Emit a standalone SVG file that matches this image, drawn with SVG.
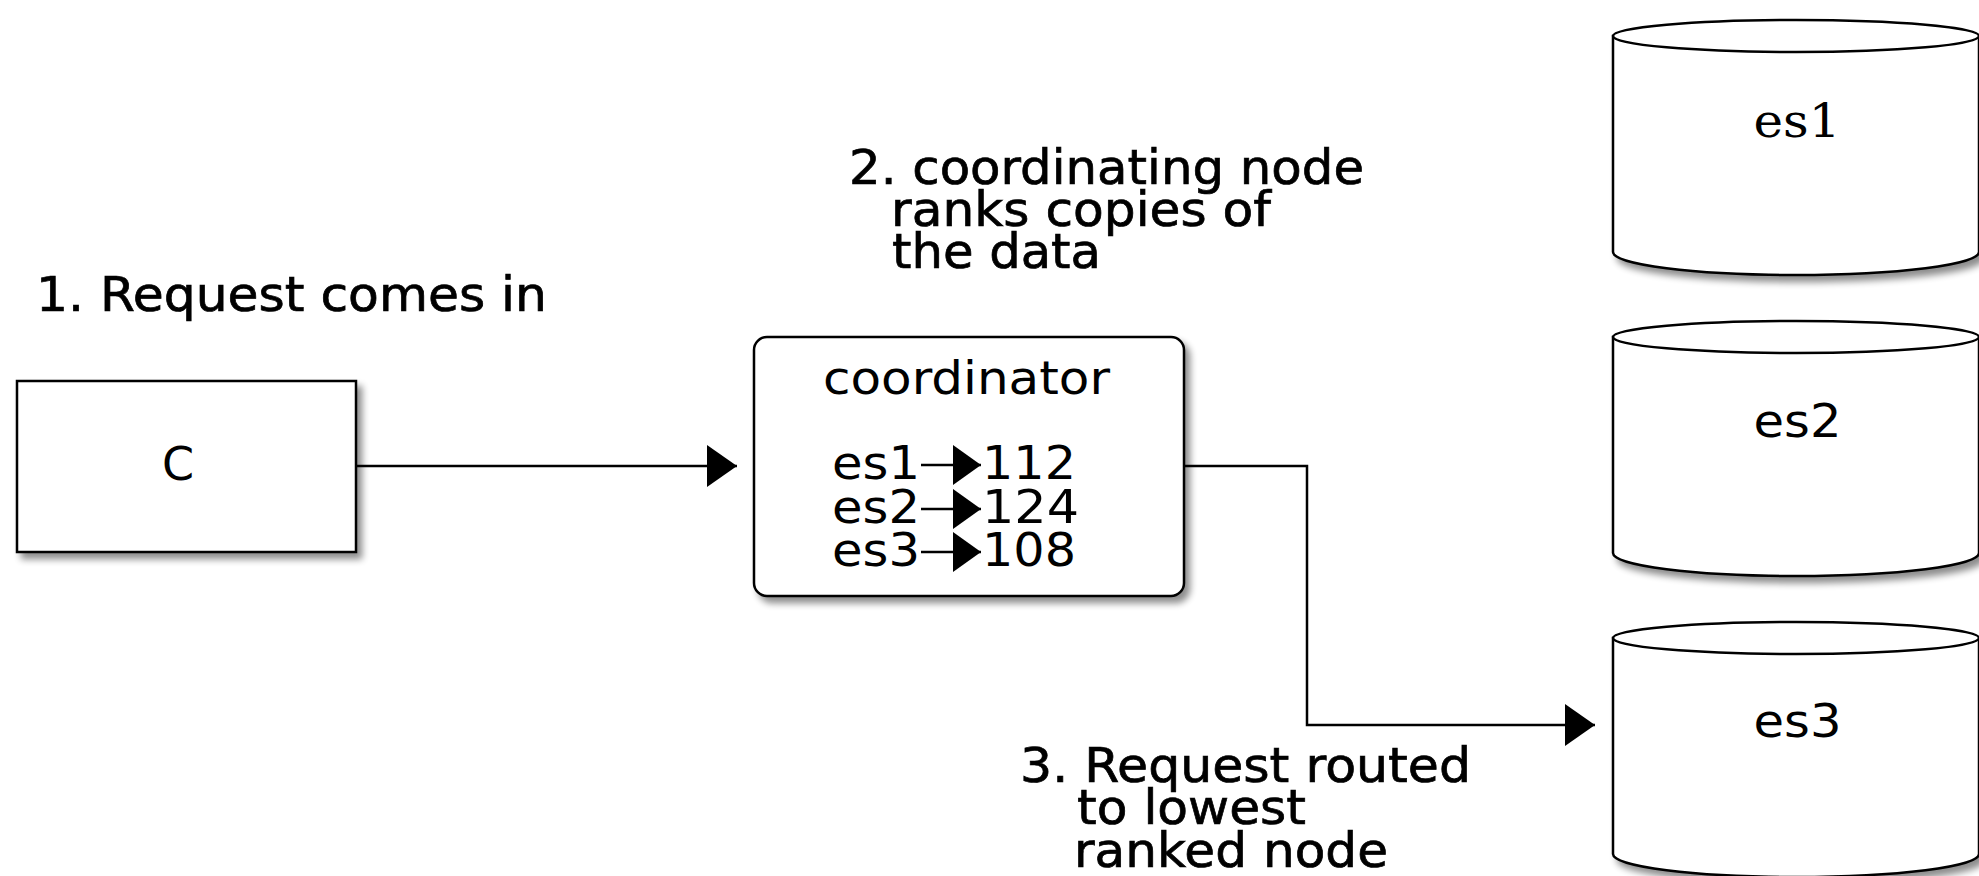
<svg xmlns="http://www.w3.org/2000/svg" width="1979" height="876" viewBox="0 0 1979 876">
  <defs>
    <filter id="shadow" x="-10%" y="-10%" width="130%" height="130%">
      <feGaussianBlur in="SourceAlpha" stdDeviation="3.5"/>
      <feOffset dx="5" dy="6" result="b"/>
      <feComponentTransfer><feFuncA type="linear" slope="0.45"/></feComponentTransfer>
      <feMerge><feMergeNode/><feMergeNode in="SourceGraphic"/></feMerge>
    </filter>
    <marker id="arrow" markerUnits="userSpaceOnUse" markerWidth="31" markerHeight="43" refX="30" refY="21" orient="auto">
      <path d="M0,0 L30,21 L0,42 Z" fill="#000"/>
    </marker>
    <marker id="arrowSmall" markerUnits="userSpaceOnUse" markerWidth="29" markerHeight="41" refX="28" refY="20" orient="auto">
      <path d="M0,0 L28,20 L0,40 Z" fill="#000"/>
    </marker>
  </defs>
  <style>
    .shape { fill: #fff; stroke: #000; stroke-width: 2.5; }
    .txt { font-family: "DejaVu Sans", "Liberation Sans", sans-serif; fill: #000; }
    .serif { font-family: "DejaVu Serif", "Liberation Serif", serif; fill: #000; }
    .label { font-size: 48px; stroke: #000; stroke-width: 0.7px; }
    .node { font-size: 46px; }
    .conn { fill: none; stroke: #000; stroke-width: 2.5; }
  </style>
  <rect width="1979" height="876" fill="#fff"/>

  <g id="label1">
    <text class="txt label" x="36" y="311" textLength="511" lengthAdjust="spacingAndGlyphs">1. Request comes in</text>
  </g>
  <g id="label2">
    <text class="txt label" x="849" y="184" textLength="515" lengthAdjust="spacingAndGlyphs">2. coordinating node</text>
    <text class="txt label" x="891" y="226" textLength="380" lengthAdjust="spacingAndGlyphs">ranks copies of</text>
    <text class="txt label" x="892" y="268" textLength="209" lengthAdjust="spacingAndGlyphs">the data</text>
  </g>
  <g id="label3">
    <text class="txt label" x="1020" y="782" textLength="451" lengthAdjust="spacingAndGlyphs">3. Request routed</text>
    <text class="txt label" x="1077" y="824" textLength="229" lengthAdjust="spacingAndGlyphs">to lowest</text>
    <text class="txt label" x="1074" y="867" textLength="314" lengthAdjust="spacingAndGlyphs">ranked node</text>
  </g>

  <g id="node-C">
    <rect class="shape" x="17" y="381" width="339" height="171" filter="url(#shadow)"/>
    <text class="txt node" x="178" y="480" text-anchor="middle">C</text>
  </g>

  <g id="node-coordinator">
    <rect class="shape" x="754" y="337" width="430" height="259" rx="13" ry="13" filter="url(#shadow)"/>
    <text class="txt node" x="823" y="394" textLength="287" lengthAdjust="spacingAndGlyphs">coordinator</text>
    <text class="txt node" x="832" y="479" textLength="88" lengthAdjust="spacingAndGlyphs">es1</text>
    <text class="txt node" x="832" y="523" textLength="88" lengthAdjust="spacingAndGlyphs">es2</text>
    <text class="txt node" x="832" y="566" textLength="88" lengthAdjust="spacingAndGlyphs">es3</text>
    <line class="conn" x1="921" y1="465" x2="981" y2="465" marker-end="url(#arrowSmall)"/>
    <line class="conn" x1="921" y1="509" x2="981" y2="509" marker-end="url(#arrowSmall)"/>
    <line class="conn" x1="921" y1="552" x2="981" y2="552" marker-end="url(#arrowSmall)"/>
    <text class="txt node" x="982" y="479" textLength="94" lengthAdjust="spacingAndGlyphs">112</text>
    <text class="txt node" x="982" y="523" textLength="97" lengthAdjust="spacingAndGlyphs">124</text>
    <text class="txt node" x="982" y="566" textLength="94" lengthAdjust="spacingAndGlyphs">108</text>
  </g>

  <g id="node-es1">
    <path class="shape" d="M1613,36 L1613,252 A183,23 0 0 0 1979,252 L1979,36 Z" filter="url(#shadow)"/>
    <ellipse class="shape" cx="1796" cy="36" rx="183" ry="16"/>
    <text class="serif node" x="1797" y="137" text-anchor="middle" textLength="87" lengthAdjust="spacingAndGlyphs">es1</text>
  </g>
  <g id="node-es2">
    <path class="shape" d="M1613,337 L1613,553 A183,23 0 0 0 1979,553 L1979,337 Z" filter="url(#shadow)"/>
    <ellipse class="shape" cx="1796" cy="337" rx="183" ry="16"/>
    <text class="txt node" x="1797.5" y="437" text-anchor="middle" textLength="88" lengthAdjust="spacingAndGlyphs">es2</text>
  </g>
  <g id="node-es3">
    <path class="shape" d="M1613,638 L1613,854 A183,23 0 0 0 1979,854 L1979,638 Z" filter="url(#shadow)"/>
    <ellipse class="shape" cx="1796" cy="638" rx="183" ry="16"/>
    <text class="txt node" x="1797.5" y="737" text-anchor="middle" textLength="88" lengthAdjust="spacingAndGlyphs">es3</text>
  </g>

  <g id="connectors">
    <path class="conn" d="M356,466 L737,466" marker-end="url(#arrow)"/>
    <path class="conn" d="M1184,466 L1307,466 L1307,725 L1595,725" marker-end="url(#arrow)"/>
  </g>
</svg>
